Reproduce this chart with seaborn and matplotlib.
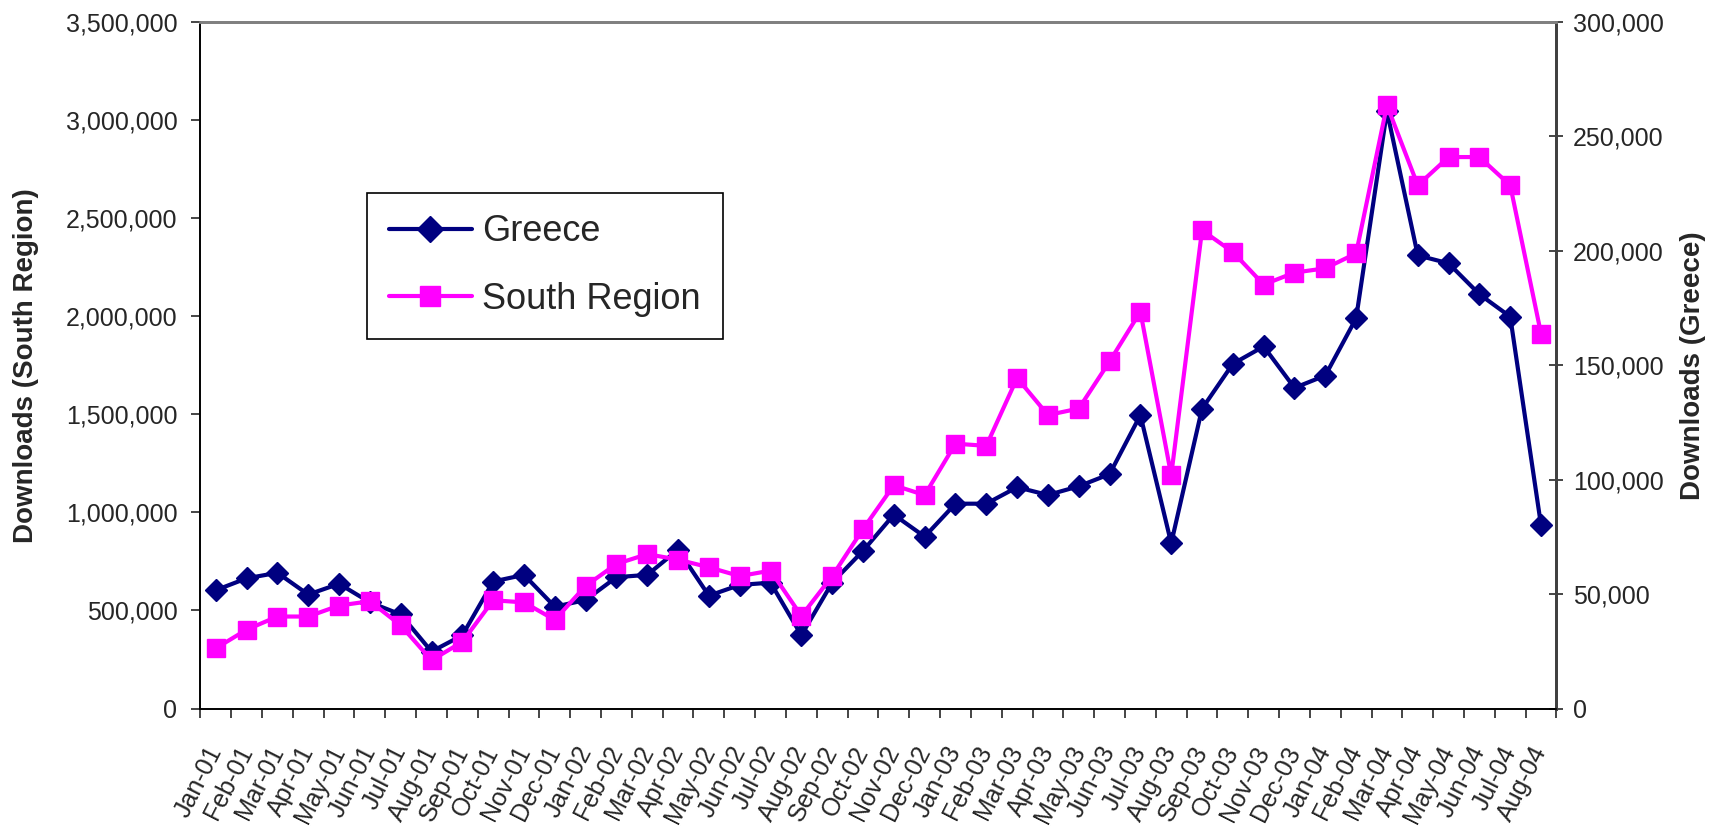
import numpy as np
import pandas as pd
import matplotlib
matplotlib.use("Agg")
import matplotlib.pyplot as plt
from matplotlib.ticker import FuncFormatter, FixedLocator
from matplotlib.lines import Line2D
import seaborn as sns

months = ['Jan-01', 'Feb-01', 'Mar-01', 'Apr-01', 'May-01', 'Jun-01', 'Jul-01', 'Aug-01',
          'Sep-01', 'Oct-01', 'Nov-01', 'Dec-01', 'Jan-02', 'Feb-02', 'Mar-02', 'Apr-02',
          'May-02', 'Jun-02', 'Jul-02', 'Aug-02', 'Sep-02', 'Oct-02', 'Nov-02', 'Dec-02',
          'Jan-03', 'Feb-03', 'Mar-03', 'Apr-03', 'May-03', 'Jun-03', 'Jul-03', 'Aug-03',
          'Sep-03', 'Oct-03', 'Nov-03', 'Dec-03', 'Jan-04', 'Feb-04', 'Mar-04', 'Apr-04',
          'May-04', 'Jun-04', 'Jul-04', 'Aug-04']

# right axis
greece = [51700, 56900, 59300, 49800, 54500, 46400, 41100, 24900,
          32000, 55500, 58400, 44500, 47400, 57400, 58400, 69400,
          49300, 54000, 55000, 32000, 55000, 68900, 84700, 75100,
          89500, 89500, 96700, 93300, 97100, 102400, 128200, 72200,
          131000, 150600, 158200, 140100, 145500, 170500, 261000, 198000,
          194500, 181000, 171200, 80000]

# left axis
south = [307000, 402000, 469000, 469000, 525000, 547000, 424000, 246000,
         340000, 552000, 541000, 452000, 625000, 737000, 787000, 759000,
         720000, 675000, 703000, 472000, 675000, 915000, 1138000, 1088000,
         1350000, 1339000, 1685000, 1496000, 1529000, 1769000, 2023000, 1189000,
         2438000, 2327000, 2161000, 2222000, 2244000, 2320000, 3075000, 2667000,
         2811000, 2811000, 2667000, 1910000]

df = pd.DataFrame({'idx': np.arange(len(months)), 'month': months,
                   'Greece': greece, 'South Region': south})

navy = '#000080'
pink = '#FF00FF'

sns.set_style('white')
plt.rcParams['font.family'] = ['Liberation Sans', 'DejaVu Sans']

fig, ax = plt.subplots(figsize=(17.17, 8.26), dpi=100)
fig.subplots_adjust(left=0.1167, right=0.9065, top=0.9735, bottom=0.1422)
ax2 = ax.twinx()

sns.lineplot(data=df, x='idx', y='Greece', ax=ax2, color=navy, linewidth=3,
             marker='D', markersize=11, markeredgecolor=navy, markeredgewidth=1)
sns.lineplot(data=df, x='idx', y='South Region', ax=ax, color=pink, linewidth=3,
             marker='s', markersize=13.5, markeredgecolor=pink, markeredgewidth=1)

# pink series drawn over the navy one
ax.set_zorder(ax2.get_zorder() + 1)
ax.patch.set_visible(False)

ax.set_xlim(-0.5, len(months) - 0.5)
ax.set_ylim(0, 3500000)
ax2.set_ylim(0, 300000)
ax.set_yticks(np.arange(0, 3500001, 500000))
ax2.set_yticks(np.arange(0, 300001, 50000))
fmt = FuncFormatter(lambda v, p: f'{int(v):,}')
ax.yaxis.set_major_formatter(fmt)
ax2.yaxis.set_major_formatter(fmt)

ax.set_xticks(np.arange(len(months)))
ax.set_xticklabels(months, rotation=63, ha='right', va='center',
                   rotation_mode='anchor', fontsize=18)
ax.xaxis.set_minor_locator(FixedLocator(np.arange(-0.5, len(months), 1.0)))
ax.tick_params(axis='x', which='major', length=0, pad=28)
ax.tick_params(axis='x', which='minor', length=6.5, width=1.2, direction='out', bottom=True)
ax.tick_params(axis='y', length=6.5, width=1.2, direction='out', labelsize=18, pad=10, left=True)
ax2.tick_params(axis='y', length=10, width=1.2, direction='inout', labelsize=18, pad=7, right=True)

ax.set_xlabel('')
ax.set_ylabel('Downloads (South Region)', fontsize=20, fontweight='bold')
ax2.set_ylabel('Downloads (Greece)', fontsize=20, fontweight='bold')
ax.yaxis.set_label_coords(-0.119, 0.5)
ax2.yaxis.set_label_coords(1.0914, 0.5)

for a in (ax, ax2):
    for s in a.spines.values():
        s.set_color('black')
        s.set_linewidth(1.2)
    a.spines['top'].set_color('#808080')
    a.spines['top'].set_linewidth(2)
    a.spines['right'].set_color('#404040')
    a.spines['right'].set_linewidth(2)
    a.grid(False)

handles = [Line2D([], [], color=navy, linewidth=3, marker='D', markersize=13),
           Line2D([], [], color=pink, linewidth=3, marker='s', markersize=15)]
leg = ax.legend(handles, ['Greece', 'South Region'], loc='upper left',
                bbox_to_anchor=(0.1228, 0.7512), fontsize=26, frameon=True,
                fancybox=False, edgecolor='black', framealpha=1, borderpad=0.6,
                labelspacing=0.9, handlelength=2.3, handletextpad=0.3,
                borderaxespad=0)
leg.get_frame().set_linewidth(1.2)
if ax2.get_legend() is not None:
    ax2.get_legend().remove()

fig.savefig('out.png', dpi=100)
